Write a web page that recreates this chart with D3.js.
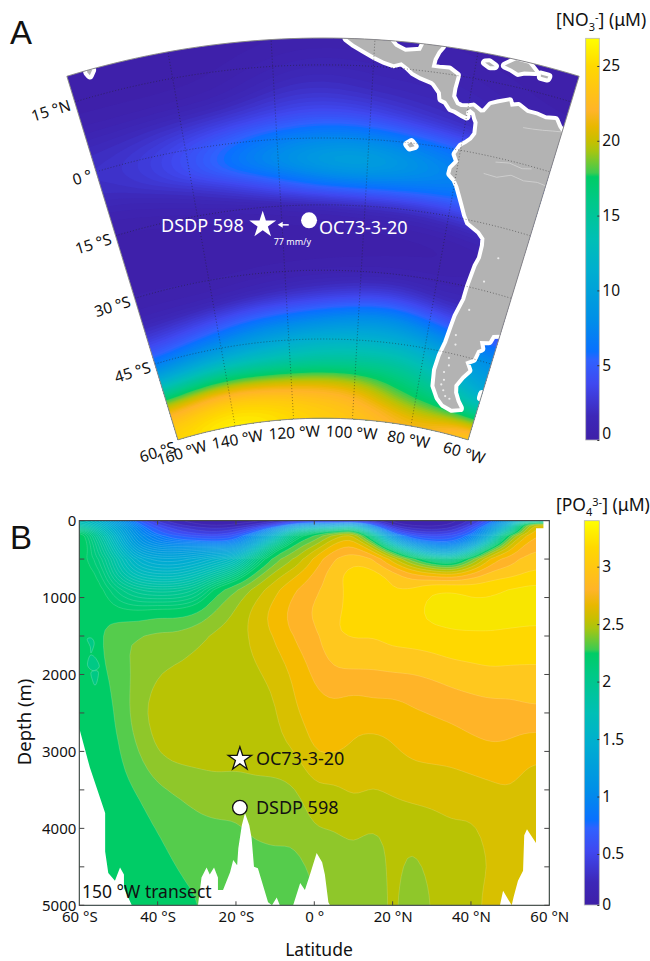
<!DOCTYPE html>
<html>
<head>
<meta charset="utf-8">
<script src="https://cdn.jsdelivr.net/npm/d3@7"></script>
<style>
  html, body { margin: 0; padding: 0; background: white; }
  text { font-family: "Noto Sans", sans-serif; }
</style>
</head>
<body>
<script>
// panel A: surface nitrate, rows run south to north
const mapLons = [-160, -150, -140, -130, -120, -110, -100, -90, -80, -70, -60];
const mapLats = [-60, -55, -50, -45, -40, -35, -30, -25, -20, -15, -10, -5, 0, 5, 10, 15, 20];
const no3Grid = [
  [25, 26.5, 27, 26.5, 25.5, 24.5, 24, 23.5, 22, 23, 27],
  [22, 23.2, 24, 23.5, 23, 22.5, 22.2, 19, 17.5, 16.5, 14],
  [13, 14, 15, 14.8, 15, 15.5, 15.3, 16, 14.5, 13, 9],
  [6, 7.5, 8.5, 10, 11, 12, 12, 12, 11, 9.5, 8],
  [3, 3.5, 4.5, 5.8, 6.2, 7, 8, 8.5, 6.5, 4.5, 5],
  [1, 1, 1, 1.5, 2, 2.5, 3, 3.5, 2, 1.5, 3],
  [0.5, 0.5, 0.4, 0.5, 0.6, 0.7, 0.8, 0.9, 0.8, 0.9, 2],
  [0.3, 0.3, 0.3, 0.3, 0.3, 0.3, 0.3, 0.4, 0.4, 0.5, 1],
  [0.3, 0.3, 0.3, 0.3, 0.3, 0.4, 0.4, 0.5, 0.6, 0.9, 1.5],
  [0.4, 0.5, 0.6, 0.7, 1, 1.5, 2, 2, 2.5, 3.5, 3],
  [0.8, 1.2, 1.8, 3, 5, 6.8, 7, 6.8, 6.5, 6.5, 6],
  [1.8, 2.8, 4.2, 7, 8.5, 10.5, 11, 9, 7.5, 7, 6],
  [2.2, 3, 4.2, 6, 7.2, 8, 8, 7, 6, 5, 4],
  [1.8, 2, 2.4, 2.8, 3.8, 4.5, 4, 2.8, 2, 1.5, 1],
  [0.7, 0.6, 0.7, 0.8, 2.2, 2.6, 1.8, 1.6, 1.5, 0.7, 0.5],
  [0.3, 0.3, 0.3, 0.4, 1, 1.6, 1, 1.2, 0.8, 0.4, 0.4],
  [0.3, 0.3, 0.3, 0.3, 0.4, 0.5, 0.4, 0.4, 0.4, 0.3, 0.3]
];

// coast outlines, lon/lat
const americas = [[-105.5,24],[-105.5,20],[-104,19],[-102,18],[-100,17],[-98,16.2],[-96,15.7],[-94.5,16.2],[-93,15.3],[-92,14.5],[-90.5,13.9],[-88,13.2],[-87.5,12.9],[-86,11.3],[-85.7,10],[-84.7,9.7],[-83.5,8.4],[-82.5,8.2],[-81,7.6],[-80,7.3],[-80.3,8.2],[-79.5,8.9],[-78.5,8.4],[-78,7.3],[-77.5,6.5],[-77.3,4],[-78,2.6],[-79,1.6],[-80,0.8],[-80.9,-1],[-80,-2.6],[-81.2,-4.3],[-81.3,-5.5],[-80,-6.5],[-79,-8],[-78,-10],[-77,-12],[-76,-14],[-75,-15.5],[-72,-17],[-70.5,-18.3],[-70.2,-20],[-70.2,-23],[-70.8,-25],[-71.5,-30],[-71.7,-33],[-73,-37],[-73.5,-40],[-74,-43],[-75,-46],[-75.5,-49],[-75,-52],[-73,-54],[-71,-55],[-68,-55.5],[-65.5,-55],[-67,-54],[-68.5,-52.5],[-69,-51],[-67.5,-49],[-66,-47.5],[-67.5,-46],[-65.5,-45],[-65,-43],[-64,-42.5],[-65,-41],[-62.5,-40.5],[-62,-39],[-60,-38.5],[-55,-36],[-55,7],[-60,8.7],[-61,9.5],[-62,10.7],[-64,10.3],[-66,10.6],[-68,10.6],[-70,11.5],[-71.5,11],[-72,12],[-74,11.2],[-75.5,10.5],[-76.5,8.8],[-77.3,8.6],[-79,9.5],[-80,9.2],[-81.5,9],[-82.5,9.3],[-83.6,10.8],[-83.6,12.5],[-83.3,15],[-85,15.9],[-87,15.8],[-88.5,15.8],[-88.3,17.5],[-87.7,19],[-87,20],[-86.5,24],[-90.5,24],[-90.5,20],[-91,18.7],[-94,18.2],[-96,19],[-97,20],[-97,24]];
const islands = [
  [[-78.3,18.3],[-77.5,18.5],[-76.3,18],[-77.2,17.8]],
  [[-74.4,18.5],[-72.5,19.9],[-70,19.8],[-68.4,18.6],[-70.5,18.2],[-71.6,17.7],[-73,18.2]],
  [[-67.2,18.4],[-65.7,18.4],[-65.8,18],[-67.1,18]],
  [[-91.6,-0.4],[-90.8,0.2],[-90,-0.6],[-91,-1]],
  [[-156,20.2],[-155,19.8],[-155.7,19],[-156,19.6]],
  [[-60,-51.3],[-59,-51.3],[-59,-52],[-60,-52]]
];
const rivers = [
  [[-74,-4],[-71,-4.2],[-68,-3],[-65,-3.5],[-62,-3],[-60,-3.2]],
  [[-72,-1],[-69,-0.5],[-66,-1],[-64,-0.5]],
  [[-68,7.5],[-66,7.7],[-64,8],[-62,8.4],[-60,8.8]]
];
// small pale flecks on the land, southern Andes mostly
const landFlecks = [[-72,-41],[-71.5,-43],[-72.5,-46],[-72,-47.5],[-73,-49],[-72.5,-50.5],[-73,-51.5],[-72,-52.5],[-71,-53.5],[-69.5,-53.8],[-70,-35],[-68,-28],[-66,-22]];

const mapSites = [
  { name: "DSDP 598", lon: -124.7, lat: -19 },
  { name: "OC73-3-20", lon: -113.4, lat: -19 }
];
const lonTicks = [-160, -140, -120, -100, -80, -60];
const latTicks = [-45, -30, -15, 0, 15];
const latTickLabels = ["45 °S", "30 °S", "15 °S", "0 °", "15 °N"];
const lonTickLabels = ["160 °W", "140 °W", "120 °W", "100 °W", "80 °W", "60 °W"];

// panel B: phosphate section along 150W, rows run top down
const sectionLats = [-60, -55, -50, -45, -40, -35, -30, -25, -20, -15, -10, -5, 0, 5, 10, 15, 20, 25, 30, 35, 40, 45, 50, 55, 60];
const sectionDepths = [0, 50, 100, 150, 200, 300, 400, 500, 700, 900, 1200, 1500, 2000, 2500, 3000, 3500, 4000, 4500, 5000];
const po4Grid = [
  [1.7, 1.5, 1.1, 0.7, 0.35, 0.2, 0.15, 0.12, 0.12, 0.15, 0.25, 0.4, 0.5, 0.4, 0.4, 0.3, 0.15, 0.1, 0.1, 0.15, 0.3, 0.7, 1.2, 1.6, 1.6],
  [1.8, 1.6, 1.25, 0.85, 0.5, 0.3, 0.2, 0.15, 0.2, 0.3, 0.5, 0.9, 1.1, 1.1, 1.3, 0.7, 0.25, 0.15, 0.15, 0.2, 0.4, 0.9, 1.5, 2.6, 2.6],
  [2.0, 1.7, 1.35, 0.95, 0.65, 0.45, 0.35, 0.3, 0.35, 0.55, 0.95, 1.5, 1.7, 1.8, 2.0, 1.1, 0.45, 0.3, 0.25, 0.3, 0.6, 1.1, 1.75, 2.7, 2.7],
  [2.25, 1.8, 1.4, 1.0, 0.75, 0.55, 0.45, 0.4, 0.5, 0.8, 1.3, 1.9, 2.15, 2.3, 2.5, 1.6, 0.7, 0.45, 0.4, 0.45, 0.7, 1.25, 2.0, 2.75, 2.75],
  [2.35, 1.9, 1.45, 1.05, 0.85, 0.7, 0.6, 0.55, 0.65, 1.05, 1.55, 2.15, 2.3, 2.55, 2.7, 2.0, 1.0, 0.65, 0.55, 0.6, 0.85, 1.4, 2.4, 2.8, 2.8],
  [2.35, 2.0, 1.55, 1.15, 1.0, 0.95, 0.95, 0.9, 0.95, 1.4, 1.95, 2.3, 2.45, 2.72, 2.8, 2.5, 1.6, 1.05, 0.9, 0.85, 1.1, 1.9, 2.65, 2.85, 2.85],
  [2.32, 2.05, 1.65, 1.3, 1.2, 1.2, 1.25, 1.3, 1.3, 1.75, 2.25, 2.4, 2.62, 2.82, 2.88, 2.75, 2.3, 1.7, 1.3, 1.25, 1.7, 2.5, 2.75, 2.9, 2.9],
  [2.25, 2.12, 1.75, 1.45, 1.35, 1.35, 1.4, 1.5, 1.6, 2.05, 2.35, 2.5, 2.72, 2.9, 2.98, 2.92, 2.65, 2.35, 2.05, 1.9, 2.35, 2.75, 2.85, 2.95, 2.95],
  [2.25, 2.22, 1.85, 1.65, 1.6, 1.6, 1.7, 1.85, 2.05, 2.35, 2.55, 2.68, 2.82, 2.97, 3.05, 3.06, 2.98, 2.85, 2.8, 2.75, 2.85, 2.95, 2.97, 3.02, 3.02],
  [2.25, 2.25, 2.08, 1.95, 1.9, 1.92, 2.0, 2.28, 2.42, 2.55, 2.68, 2.8, 2.88, 2.95, 3.05, 3.06, 3.0, 3.02, 3.12, 3.14, 3.08, 3.08, 3.12, 3.14, 3.14],
  [2.25, 2.28, 2.23, 2.24, 2.28, 2.27, 2.31, 2.43, 2.52, 2.65, 2.75, 2.85, 2.92, 2.99, 3.02, 3.03, 3.05, 3.08, 3.13, 3.14, 3.15, 3.15, 3.16, 3.15, 3.15],
  [2.25, 2.27, 2.41, 2.41, 2.43, 2.43, 2.48, 2.53, 2.56, 2.63, 2.72, 2.82, 2.87, 3.0, 3.03, 3.02, 3.05, 3.06, 3.07, 3.09, 3.09, 3.09, 3.07, 3.06, 3.06],
  [2.25, 2.27, 2.33, 2.44, 2.5, 2.53, 2.55, 2.56, 2.56, 2.58, 2.62, 2.72, 2.82, 2.88, 2.88, 2.88, 2.89, 2.89, 2.91, 2.94, 2.96, 2.98, 2.98, 2.98, 2.98],
  [2.25, 2.25, 2.31, 2.48, 2.55, 2.56, 2.56, 2.56, 2.56, 2.57, 2.58, 2.69, 2.75, 2.76, 2.72, 2.75, 2.74, 2.78, 2.8, 2.82, 2.84, 2.85, 2.85, 2.88, 2.88],
  [2.25, 2.25, 2.28, 2.4, 2.52, 2.55, 2.55, 2.55, 2.54, 2.55, 2.57, 2.6, 2.72, 2.72, 2.69, 2.65, 2.69, 2.72, 2.73, 2.74, 2.77, 2.79, 2.78, 2.72, 2.72],
  [2.25, 2.25, 2.26, 2.3, 2.37, 2.41, 2.44, 2.46, 2.46, 2.47, 2.46, 2.48, 2.57, 2.57, 2.62, 2.6, 2.62, 2.64, 2.64, 2.64, 2.65, 2.67, 2.69, 2.65, 2.65],
  [2.25, 2.25, 2.25, 2.26, 2.3, 2.34, 2.37, 2.38, 2.38, 2.42, 2.42, 2.43, 2.5, 2.5, 2.52, 2.49, 2.52, 2.53, 2.56, 2.59, 2.58, 2.62, 2.65, 2.6, 2.6],
  [2.25, 2.25, 2.25, 2.25, 2.27, 2.3, 2.33, 2.34, 2.36, 2.36, 2.38, 2.36, 2.42, 2.45, 2.47, 2.45, 2.53, 2.47, 2.52, 2.54, 2.58, 2.6, 2.62, 2.6, 2.6],
  [2.25, 2.25, 2.25, 2.25, 2.25, 2.27, 2.29, 2.33, 2.34, 2.33, 2.32, 2.33, 2.4, 2.4, 2.42, 2.46, 2.52, 2.46, 2.5, 2.55, 2.57, 2.63, 2.63, 2.6, 2.6]
];
// seafloor (and the gap right of the last station), lat / depth
const floorLats = [-60,-57.3,-53.4,-53.4,-52.6,-50.9,-49.6,-48.6,-48.6,-46.6,-29.7,-28.8,-27.5,-26.7,-25.6,-24.6,-24.6,-23.3,-21.5,-20.7,-19.7,-19.4,-18.5,-17.7,-16.6,-16,-15.4,-14.4,-11.8,-10.8,-9.6,-8.8,-5.4,-3.6,-2.4,-1.1,0.6,2,2.7,3.6,4,47.4,48.2,50.4,50.9,52,53.3,53.6,54.3,56.6,56.6,58.5,58.5,60];
const floorDepths = [2700,3210,3800,4300,4580,4680,4510,4600,4775,5000,5000,4640,4510,4600,4510,4640,4800,4800,4570,4410,4480,4260,3960,3800,3960,4130,4500,4520,4960,5000,4900,5000,5000,4710,4800,4600,4320,4440,4600,4960,5000,5000,4810,5000,4890,4680,4550,4090,4010,4190,100,100,0,0];
// little closed low pockets near 57S, lat / depth
const lowPockets = [
  [[-58,1540],[-56.8,1530],[-56.2,1600],[-57,1720],[-57.2,1640]],
  [[-57.2,1750],[-55.8,1790],[-54.9,1900],[-56.5,1950],[-57.9,1880]],
  [[-57,1970],[-55.2,1960],[-55.4,2080],[-56,2140],[-56.6,2080]]
];
const sectionSites = [
  { name: "OC73-3-20", lat: -19, depth: 3100, shape: "star" },
  { name: "DSDP 598", lat: -19, depth: 3730, shape: "circle" }
];
const depthTicks = [0, 1000, 2000, 3000, 4000, 5000];
const depthMinorTicks = [500, 1500, 2500, 3500, 4500];
const sectionLatTicks = [-60, -40, -20, 0, 20, 40, 60];
const sectionLatLabels = ["60 °S", "40 °S", "20 °S", "0 °", "20 °N", "40 °N", "60 °N"];

const no3BarTicks = [0, 5, 10, 15, 20, 25];
const po4BarTicks = [0, 0.5, 1, 1.5, 2, 2.5, 3];

// shared colormap, position along the bar 0..1
const cmapStops = [0, 0.06, 0.14, 0.2, 0.22, 0.3, 0.42, 0.5, 0.6, 0.655, 0.665, 0.72, 0.745, 0.78, 0.82, 0.87, 0.93, 0.97, 1];
const cmapColors = ["#3e1fa8", "#3d28b8", "#3f48f0", "#2f62ff", "#0a70ff", "#008fe8", "#00aed0", "#00bfb5", "#00c985", "#00cc66", "#3ecb50", "#a8c510", "#c8bf00", "#e8b800", "#ffb428", "#ffc414", "#ffd800", "#ffee00", "#ffff00"];
const cmap = d3.scaleLinear().domain(cmapStops).range(cmapColors).clamp(true);

// flat colours of the deep levels in panel B
const po4DeepLevels = [2.2, 2.3, 2.4, 2.5, 2.6, 2.7, 2.8, 2.9, 3.0, 3.1];
const po4DeepColors = ["#00cc66", "#55cc4c", "#8fc72a", "#b9c304", "#d8c000", "#f5bb00", "#ffb428", "#ffc81e", "#ffd800", "#f8e600"];

const no3Max = 26.85;
const po4Max = 3.4;

const svg = d3.select("body").append("svg")
  .attr("width", 650)
  .attr("height", 961)
  .style("display", "block");

const defs = svg.append("defs");
const grad = defs.append("linearGradient").attr("id", "cbar")
  .attr("x1", 0).attr("x2", 0).attr("y1", 1).attr("y2", 0);
cmapStops.forEach(function(s, i) {
  grad.append("stop").attr("offset", s).attr("stop-color", cmapColors[i]);
});

// resample a grid k times finer, then soften it. only for drawing the filled levels
function fineGrid(grid, k, blurX, blurY) {
  const ny = grid.length, nx = grid[0].length;
  const w = (nx - 1) * k + 1, h = (ny - 1) * k + 1;
  const out = new Float64Array(w * h);
  for (let j = 0; j < h; j++) {
    const fy = j / k, y0 = Math.min(Math.floor(fy), ny - 2), ty = fy - y0;
    for (let i = 0; i < w; i++) {
      const fx = i / k, x0 = Math.min(Math.floor(fx), nx - 2), tx = fx - x0;
      out[j * w + i] = (1 - ty) * ((1 - tx) * grid[y0][x0] + tx * grid[y0][x0 + 1])
        + ty * ((1 - tx) * grid[y0 + 1][x0] + tx * grid[y0 + 1][x0 + 1]);
    }
  }
  const field = { data: out, width: w, height: h };
  d3.blur2(field, blurX, blurY);
  return field;
}

// ---------- panel A ----------
const projection = d3.geoConicConformal()
  .parallels([-19.85, -19.85])
  .center([0, 0])
  .rotate([110, 0])
  .scale(248.8)
  .translate([323, 138]);

const mapLine = d3.line().curve(d3.curveLinear);
const project = function(p) { return projection(p); };

const outline = []
  .concat(d3.range(-160, -59, 2).map(function(l) { return [l, 20]; }))
  .concat(d3.range(20, -61, -5).map(function(l) { return [-60, l]; }))
  .concat(d3.range(-60, -161, -2).map(function(l) { return [l, -60]; }))
  .concat(d3.range(-60, 21, 5).map(function(l) { return [-160, l]; }));

defs.append("clipPath").attr("id", "mapClip")
  .append("path").attr("d", mapLine(outline.map(project)) + "Z");

const mapG = svg.append("g").attr("clip-path", "url(#mapClip)");
mapG.append("path").attr("d", mapLine(outline.map(project)) + "Z").attr("fill", cmap(0));

const kMap = 6;
const no3Field = fineGrid(no3Grid, kMap, 3, 1.5);
const no3Levels = d3.range(0.2, no3Max, 0.3);
const mapTransform = d3.geoTransform({
  point: function(x, y) {
    const gx = Math.max(0, Math.min(no3Field.width - 1, x - 0.5)) / kMap;
    const gy = Math.max(0, Math.min(no3Field.height - 1, y - 0.5)) / kMap;
    const p = projection([mapLons[0] + gx * 10, mapLats[0] + gy * 5]);
    this.stream.point(p[0], p[1]);
  }
});
mapG.selectAll("path.no3")
  .data(d3.contours().size([no3Field.width, no3Field.height]).thresholds(no3Levels)(no3Field.data))
  .enter().append("path")
  .attr("class", "no3")
  .attr("d", d3.geoPath(mapTransform))
  .attr("fill", function(d) { return cmap(d.value / no3Max); });

// land, white halo on the coast
[americas].concat(islands).forEach(function(poly) {
  mapG.append("path")
    .attr("d", mapLine(poly.map(project)) + "Z")
    .attr("fill", "#b3b3b3")
    .attr("stroke", "white")
    .attr("stroke-width", 8)
    .attr("stroke-linejoin", "round")
    .attr("paint-order", "stroke");
});
rivers.forEach(function(r) {
  mapG.append("path")
    .attr("d", mapLine(r.map(project)))
    .attr("fill", "none")
    .attr("stroke", "#d0d0d0")
    .attr("stroke-width", 0.9);
});
mapG.selectAll("circle.fleck")
  .data(landFlecks)
  .enter().append("circle")
  .attr("class", "fleck")
  .attr("cx", function(d) { return projection(d)[0]; })
  .attr("cy", function(d) { return projection(d)[1]; })
  .attr("r", 1.1)
  .attr("fill", "white")
  .attr("fill-opacity", 0.75);

// graticule
lonTicks.slice(1, -1).forEach(function(lon) {
  mapG.append("path")
    .attr("class", "grat")
    .attr("d", mapLine(d3.range(-60, 21, 5).map(function(l) { return project([lon, l]); })));
});
latTicks.forEach(function(lat) {
  mapG.append("path")
    .attr("class", "grat")
    .attr("d", mapLine(d3.range(-160, -59, 2).map(function(l) { return project([l, lat]); })));
});
mapG.selectAll("path.grat")
  .attr("fill", "none")
  .attr("stroke", "#222")
  .attr("stroke-opacity", 0.6)
  .attr("stroke-width", 0.8)
  .attr("stroke-dasharray", "1 2");

svg.append("path")
  .attr("d", mapLine(outline.map(project)) + "Z")
  .attr("fill", "none")
  .attr("stroke", "#8a8a8a")
  .attr("stroke-width", 1);

// degrees to screen angle on the cone
function coneAngle(lon) { return (lon + 110) * 0.3396; }

latTicks.forEach(function(lat, i) {
  const p = projection([-160, lat]);
  svg.append("text")
    .attr("transform", "translate(" + (p[0] - 3) + "," + (p[1] + 8) + ") rotate(-17)")
    .attr("text-anchor", "end")
    .attr("font-size", 15.5)
    .attr("fill", "#111")
    .text(latTickLabels[i]);
});
(function() {
  const p = projection([-160, -60]);
  svg.append("text")
    .attr("transform", "translate(" + (p[0] - 1) + "," + (p[1] + 12) + ") rotate(-17)")
    .attr("text-anchor", "end")
    .attr("font-size", 15.5)
    .attr("fill", "#111")
    .text("60 °S");
})();
lonTicks.forEach(function(lon, i) {
  const p = projection([lon, -60]);
  const a = coneAngle(lon) * Math.PI / 180;
  const cx = p[0] - 19 * Math.sin(a);
  const cy = p[1] + 19 * Math.cos(a);
  svg.append("text")
    .attr("transform", "translate(" + cx + "," + cy + ") rotate(" + coneAngle(lon) + ")")
    .attr("text-anchor", "middle")
    .attr("font-size", 15.5)
    .attr("fill", "#111")
    .text(lonTickLabels[i]);
});

// sites on the map
const star = projection([mapSites[0].lon, mapSites[0].lat]);
const dot = projection([mapSites[1].lon, mapSites[1].lat]);
svg.append("path")
  .attr("d", d3.symbol(d3.symbolStar).size(225)())
  .attr("transform", "translate(" + star[0] + "," + star[1] + ")")
  .attr("fill", "white");
svg.append("circle").attr("cx", dot[0]).attr("cy", dot[1] - 2).attr("r", 8).attr("fill", "white");
svg.append("text").attr("x", star[0] - 19).attr("y", star[1] + 7).attr("text-anchor", "end")
  .attr("font-size", 18).attr("fill", "white").text(mapSites[0].name);
svg.append("text").attr("x", dot[0] + 10).attr("y", dot[1] + 12)
  .attr("font-size", 18).attr("fill", "white").text(mapSites[1].name);
svg.append("line").attr("x1", star[0] + 17).attr("x2", star[0] + 26)
  .attr("y1", star[1]).attr("y2", star[1]).attr("stroke", "white").attr("stroke-width", 1.5);
svg.append("path")
  .attr("d", d3.line()([[star[0] + 15, star[1]], [star[0] + 20, star[1] - 3], [star[0] + 20, star[1] + 3]]) + "Z")
  .attr("fill", "white");
svg.append("text").attr("x", star[0] + 11).attr("y", star[1] + 20)
  .attr("font-size", 9).attr("fill", "white").text("77 mm/y");

svg.append("text").attr("x", 10).attr("y", 44)
  .style("font-family", "'Liberation Sans', sans-serif")
  .attr("font-size", 33).attr("fill", "#111").text("A");

// ---------- panel B ----------
const x = d3.scaleLinear().domain([-60, 60]).range([79.3, 549.3]);
const y = d3.scaleLinear().domain([0, 5000]).range([520.6, 905.3]);

defs.append("clipPath").attr("id", "secClip")
  .append("rect").attr("x", x(-60)).attr("y", y(0)).attr("width", x(60) - x(-60)).attr("height", y(5000) - y(0));

const secG = svg.append("g").attr("clip-path", "url(#secClip)");
secG.append("rect").attr("x", x(-60)).attr("y", y(0)).attr("width", x(60) - x(-60)).attr("height", y(5000) - y(0))
  .attr("fill", cmap(0));

const kSec = 4;
const po4Field = fineGrid(po4Grid, kSec, 1, 1);
const po4Levels = d3.range(0.1, 0.8, 0.1).concat(d3.range(0.8, 2.16, 0.05)).concat(po4DeepLevels);
const depthIndex = d3.scaleLinear().domain(sectionDepths.map(function(d, i) { return i; })).range(sectionDepths);
const secTransform = d3.geoTransform({
  point: function(gx, gy) {
    const cx = Math.max(0, Math.min(po4Field.width - 1, gx - 0.5)) / kSec;
    const cy = Math.max(0, Math.min(po4Field.height - 1, gy - 0.5)) / kSec;
    this.stream.point(x(sectionLats[0] + cx * 5), y(depthIndex(cy)));
  }
});
secG.selectAll("path.po4")
  .data(d3.contours().size([po4Field.width, po4Field.height]).thresholds(po4Levels)(po4Field.data))
  .enter().append("path")
  .attr("class", "po4")
  .attr("d", d3.geoPath(secTransform))
  .attr("fill", function(d) {
    const deep = po4DeepLevels.indexOf(d.value);
    return deep >= 0 ? po4DeepColors[deep] : cmap(d.value / po4Max);
  })
  .attr("stroke", "white")
  .attr("stroke-opacity", function(d) { return d.value < 0.8 ? 0.15 : 0.3; })
  .attr("stroke-width", 0.5);

const pocketLine = d3.line()
  .x(function(d) { return x(d[0]); })
  .y(function(d) { return y(d[1]); })
  .curve(d3.curveCardinalClosed);
secG.selectAll("path.pocket")
  .data(lowPockets)
  .enter().append("path")
  .attr("class", "pocket")
  .attr("d", pocketLine)
  .attr("fill", "#00c985")
  .attr("stroke", "white")
  .attr("stroke-opacity", 0.4)
  .attr("stroke-width", 0.5);

// seafloor
secG.append("path")
  .datum(floorLats.map(function(l, i) { return [l, floorDepths[i]]; }))
  .attr("d", d3.area()
    .x(function(d) { return x(d[0]); })
    .y0(y(5000) + 2)
    .y1(function(d) { return y(d[1]); }))
  .attr("fill", "white");

// axes
const axisLeft = d3.axisLeft(y).tickValues(depthTicks).tickSize(0).tickPadding(3).tickFormat(d3.format("d"));
const gLeft = svg.append("g").attr("transform", "translate(" + x(-60) + ",0)").call(axisLeft);
gLeft.selectAll("text").attr("font-size", 15).attr("fill", "#111");
const gBottom = svg.append("g").attr("transform", "translate(0," + y(5000) + ")")
  .call(d3.axisBottom(x).tickValues(sectionLatTicks).tickSize(0).tickPadding(6)
    .tickFormat(function(d, i) { return sectionLatLabels[i]; }));
gBottom.selectAll("text").attr("font-size", 15).attr("fill", "#111");
svg.selectAll(".domain").remove();

const tickInk = "#444";
sectionLatTicks.slice(1, -1).forEach(function(t) {
  svg.append("line").attr("x1", x(t)).attr("x2", x(t)).attr("y1", y(0)).attr("y2", y(0) + 4).attr("stroke", tickInk);
  svg.append("line").attr("x1", x(t)).attr("x2", x(t)).attr("y1", y(5000)).attr("y2", y(5000) - 4).attr("stroke", tickInk);
});
depthTicks.concat(depthMinorTicks).forEach(function(t) {
  svg.append("line").attr("x1", x(-60)).attr("x2", x(-60) + 5).attr("y1", y(t)).attr("y2", y(t)).attr("stroke", tickInk);
  svg.append("line").attr("x1", x(60)).attr("x2", x(60) - 5).attr("y1", y(t)).attr("y2", y(t)).attr("stroke", tickInk);
});
svg.append("rect").attr("x", x(-60)).attr("y", y(0)).attr("width", x(60) - x(-60)).attr("height", y(5000) - y(0))
  .attr("fill", "none").attr("stroke", "#444").attr("stroke-width", 1.1);

// sites on the section
sectionSites.forEach(function(s) {
  const px = x(s.lat), py = y(s.depth);
  if (s.shape === "star") {
    svg.append("path")
      .attr("d", d3.symbol(d3.symbolStar).size(170)())
      .attr("transform", "translate(" + px + "," + py + ")")
      .attr("fill", "white").attr("stroke", "#111").attr("stroke-width", 1.3);
  } else {
    svg.append("circle").attr("cx", px).attr("cy", py).attr("r", 7.3)
      .attr("fill", "white").attr("stroke", "#111").attr("stroke-width", 1.3);
  }
  svg.append("text").attr("x", px + 16).attr("y", py + 6)
    .attr("font-size", 18).attr("fill", "#111").text(s.name);
});

svg.append("text").attr("x", 82).attr("y", 898).attr("font-size", 17.5).attr("fill", "#111").text("150 °W transect");
svg.append("text").attr("x", 319).attr("y", 956).attr("text-anchor", "middle").attr("font-size", 17.5).attr("fill", "#111").text("Latitude");
svg.append("text").attr("transform", "translate(31,722) rotate(-90)").attr("text-anchor", "middle")
  .attr("font-size", 18.5).attr("fill", "#111").text("Depth (m)");
svg.append("text").attr("x", 10).attr("y", 549)
  .style("font-family", "'Liberation Sans', sans-serif")
  .attr("font-size", 33).attr("fill", "#111").text("B");

// ---------- colorbars ----------
function colorbar(top, bottom, left, right, scale, ticks, fmt) {
  svg.append("rect").attr("x", left).attr("y", top).attr("width", right - left).attr("height", bottom - top)
    .attr("fill", "url(#cbar)").attr("stroke", "#b5b5b5").attr("stroke-width", 0.8);
  const g = svg.append("g").attr("transform", "translate(" + right + ",0)")
    .call(d3.axisRight(scale).tickValues(ticks).tickSize(0).tickPadding(3).tickFormat(fmt));
  g.select(".domain").remove();
  g.selectAll("text").attr("font-size", 15.5).attr("fill", "#111");
  g.selectAll(".tick").append("line").attr("x1", -2).attr("x2", 0).attr("stroke", "#333");
  return g;
}
const no3Bar = d3.scaleLinear().domain([0, no3Max]).range([440, 38.3]);
const gNo3 = colorbar(38.3, 440, 585.7, 599.3, no3Bar, no3BarTicks, d3.format("d"));
gNo3.selectAll(".tick").filter(function(d) { return d === 0; }).select("text").attr("dy", "-0.1em");
const po4Bar = d3.scaleLinear().domain([0, 0.5, po4Max]).range([905, 854, 520.7]);
colorbar(520.7, 905, 584.3, 599.3, po4Bar, po4BarTicks, function(d) { return d; });

function barTitle(yPos, base, sub, sup) {
  const t = svg.append("text").attr("x", 556).attr("y", yPos).attr("font-size", 17.5).attr("fill", "#111");
  t.append("tspan").text("[" + base);
  t.append("tspan").attr("font-size", 11).attr("dy", 5).text(sub);
  t.append("tspan").attr("font-size", 11).attr("dy", -10).text(sup);
  t.append("tspan").attr("dy", 5).text("] (μM)");
}
barTitle(26, "NO", "3", "-");
barTitle(511, "PO", "4", "3-");
</script>
</body>
</html>
